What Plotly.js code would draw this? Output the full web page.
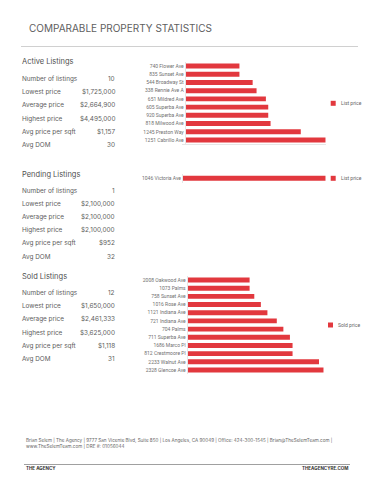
<!DOCTYPE html>
<html>
<head>
<meta charset="utf-8">
<script src="https://cdn.plot.ly/plotly-3.0.1.min.js"></script>
<style>html,body{margin:0;padding:0;background:#fff;overflow:hidden;width:370px;height:480px;}#chart{width:370px;height:480px;display:block;overflow:hidden;}</style>
</head>
<body>
<div id="chart"></div>
<script>
// ---- data ----
const pageTitle = 'COMPARABLE PROPERTY STATISTICS';
const sectionTitles = ['Active Listings', 'Pending Listings', 'Sold Listings'];
const statLabels = ['Number of listings', 'Lowest price', 'Average price', 'Highest price', 'Avg price per sqft', 'Avg DOM'];
const activeStats = ['10', '$1,725,000', '$2,664,900', '$4,495,000', '$1,157', '30'];
const pendingStats = ['1', '$2,100,000', '$2,100,000', '$2,100,000', '$952', '32'];
const soldStats = ['12', '$1,650,000', '$2,461,333', '$3,625,000', '$1,118', '31'];

const activeAddresses = ['740 Flower Ave', '835 Sunset Ave', '544 Broadway St', '338 Rennie Ave A', '651 Mildred Ave',
  '605 Superba Ave', '920 Superba Ave', '818 Milwood Ave', '1245 Preston Way', '1251 Cabrillo Ave'];
const activeListPrices = [1725000, 1725000, 2150000, 2275000, 2575000, 2650000, 2650000, 2725000, 3695000, 4495000];

const pendingAddresses = ['1046 Victoria Ave'];
const pendingListPrices = [2100000];

const soldAddresses = ['2008 Oakwood Ave', '1073 Palms', '758 Sunset Ave', '1016 Rose Ave', '1121 Indiana Ave',
  '721 Indiana Ave', '704 Palms', '711 Superba Ave', '1686 Marco Pl', '812 Crestmoore Pl', '2233 Walnut Ave', '2328 Glencoe Ave'];
const soldPrices = [1650000, 1650000, 1775000, 1950000, 2125000, 2375000, 2550000, 2725000, 2795000, 2795000, 3500000, 3625000];

const seriesNames = ['List price', 'List price', 'Sold price'];
const footerLines = ['Brian Selem | The Agency | 9777 San Vicente Blvd, Suite 850 | Los Angeles, CA 90049 | Office: 424-300-1545 | Brian@TheSelemTeam.com |',
  'www.TheSelemTeam.com | DRE #: 01056044'];
const footerLeft = 'THE AGENCY';
const footerRight = 'THEAGENCYRE.COM';

// ---- layout helpers ----
const W = 370, H = 480;
const px = x => x / W;
const py = y => 1 - y / H;
const RED = '#e2383e';
const FONT = 'Inter, "Noto Sans", sans-serif';
const SMALL = '"Liberation Sans Narrow", "Roboto", sans-serif';
const TXT = '#606060';

function barTrace(addr, vals, ax, name) {
  return {
    type: 'bar', orientation: 'h', x: vals, y: addr, name: name,
    xaxis: 'x' + ax, yaxis: 'y' + ax, width: 0.6,
    marker: {color: RED}, showlegend: false, hoverinfo: 'x+y'
  };
}

const data = [
  barTrace(activeAddresses, activeListPrices, '', seriesNames[0]),
  barTrace(pendingAddresses, pendingListPrices, '2', seriesNames[1]),
  barTrace(soldAddresses, soldPrices, '3', seriesNames[2])
];

function xax(domain, maxVal) {
  return {domain: domain, range: [0, maxVal], showgrid: false, zeroline: false, showticklabels: false,
    ticks: '', showline: true, linecolor: '#e6e6e6', linewidth: 1, fixedrange: true};
}
function yax(domain, anchor) {
  return {domain: domain, anchor: anchor, type: 'category', autorange: 'reversed', showgrid: false, zeroline: false,
    ticks: '', showline: true, linecolor: '#e6e6e6', linewidth: 1, automargin: false,
    tickfont: {family: SMALL, size: 5, color: '#707070'}, fixedrange: true};
}

const annotations = [];
function txt(text, x, y, size, color, xanchor, weight, family) {
  annotations.push({text: text, x: px(x), y: py(y), xref: 'paper', yref: 'paper', xanchor: xanchor || 'left',
    yanchor: 'middle', showarrow: false, font: {family: family || FONT, size: size, color: color, weight: weight || 400}});
}
txt(pageTitle, 26.5, 28.3, 10, '#606060');
const sectionY = [62, 175, 276.5];
const rowStartY = [79, 190.5, 293];
const statSets = [activeStats, pendingStats, soldStats];
for (let s = 0; s < 3; s++) {
  txt(sectionTitles[s], 20, sectionY[s], 7.5, '#505050');
  for (let r = 0; r < statLabels.length; r++) {
    const y = rowStartY[s] + r * 13.2;
    txt(statLabels[r], 20, y, 6.4, TXT);
    txt(statSets[s][r], 116.5, y, 6.4, TXT, 'right');
  }
}
txt(footerLines[0], 24, 440, 4.6, '#666');
txt(footerLines[1], 24, 446, 4.6, '#666');
txt(footerLeft, 24, 468.5, 4.5, '#333', 'left', 700);
txt(footerRight, 350, 468.5, 4.5, '#333', 'right', 700);

// key for each panel: a small red swatch followed by the series name
const keyPos = [[333.2, 103.3], [333.2, 178.3], [330.5, 325]];
const shapes = [
  {type: 'line', xref: 'paper', yref: 'paper', x0: px(21), x1: px(358), y0: py(46.5), y1: py(46.5), line: {color: '#d0d0d0', width: 1}},
  {type: 'line', xref: 'paper', yref: 'paper', x0: px(24), x1: px(350), y0: py(464.5), y1: py(464.5), line: {color: '#888', width: 0.8}}
];
keyPos.forEach(([kx, ky], i) => {
  shapes.push({type: 'rect', xref: 'paper', yref: 'paper', x0: px(kx - 2.5), x1: px(kx + 2.5), y0: py(ky + 2.5), y1: py(ky - 2.5),
    fillcolor: RED, line: {width: 0}});
  txt(seriesNames[i], kx + 5.5, ky, 5, '#666', 'left', 400, SMALL);
});

const layout = {
  width: W, height: H, margin: {l: 0, r: 0, t: 0, b: 0, autoexpand: false},
  paper_bgcolor: '#fff', plot_bgcolor: 'rgba(0,0,0,0)',
  font: {family: FONT, color: '#555'},
  showlegend: false,
  xaxis: xax([px(185.7), px(325.7)], Math.max(...activeListPrices)),
  yaxis: yax([py(144.1), py(61.9)], 'x'),
  xaxis2: xax([px(183), px(325.7)], Math.max(...pendingListPrices)),
  yaxis2: yax([py(182.5), py(174.2)], 'x2'),
  xaxis3: xax([px(187.7), px(323.7)], Math.max(...soldPrices)),
  yaxis3: yax([py(374.1), py(275.9)], 'x3'),
  shapes: shapes,
  annotations: annotations
};

Plotly.newPlot('chart', data, layout, {staticPlot: true, displayModeBar: false});
</script>
</body>
</html>
